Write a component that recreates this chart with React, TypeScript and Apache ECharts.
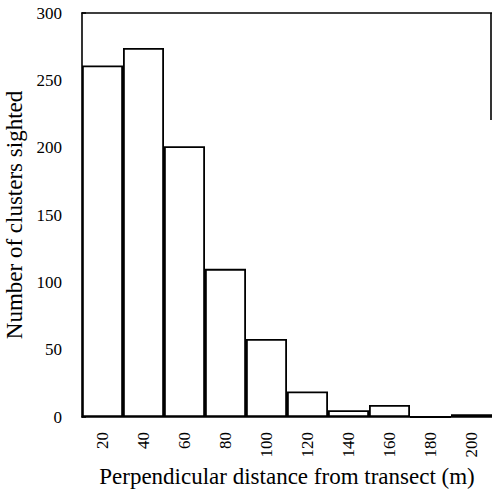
import React, { useEffect, useRef } from "react";
import * as echarts from "echarts";

const distanceLabels = ["20", "40", "60", "80", "100", "120", "140", "160", "180", "200"];
const clusterCounts = [261, 274, 201, 110, 58, 19, 5, 9, 0, 2];
const yTicks = { min: 0, max: 300, interval: 50 };

const FONT = "'Liberation Serif', 'DejaVu Serif', serif";

export default function App() {
  const ref = useRef<HTMLDivElement>(null);
  useEffect(() => {
    if (!ref.current) return;
    const chart = echarts.init(ref.current, null, { renderer: "svg" });
    chart.setOption({
      animation: false,
      backgroundColor: "#ffffff",
      grid: { left: 82, right: 0, top: 13, bottom: 77, containLabel: false, outerBoundsMode: "none" },
      xAxis: [
        {
          type: "category",
          data: distanceLabels,
          boundaryGap: true,
          axisLine: { show: true, lineStyle: { color: "#000", width: 1.6 } },
          axisTick: { show: false },
          axisLabel: {
            rotate: 90,
            margin: 15,
            color: "#000",
            fontFamily: FONT,
            fontSize: 17,
          },
          name: "Perpendicular distance from transect (m)",
          nameLocation: "middle",
          nameGap: 46,
          nameTextStyle: { color: "#000", fontFamily: FONT, fontSize: 23 },
        },
        {
          type: "category",
          data: distanceLabels,
          position: "top",
          axisLine: { show: true, lineStyle: { color: "#000", width: 1.6 } },
          axisTick: { show: false },
          axisLabel: { show: false },
        },
      ],
      yAxis: {
        type: "value",
        min: yTicks.min,
        max: yTicks.max,
        interval: yTicks.interval,
        axisLine: { show: true, lineStyle: { color: "#000", width: 1.6 } },
        axisTick: { show: true, inside: true, length: 4, lineStyle: { color: "#000", width: 1.5 } },
        splitLine: { show: false },
        axisLabel: {
          margin: 20,
          color: "#000",
          fontFamily: FONT,
          fontSize: 17,
        },
        name: "Number of clusters sighted",
        nameLocation: "middle",
        nameGap: 54,
        nameTextStyle: { color: "#000", fontFamily: FONT, fontSize: 23 },
      },
      graphic: [
        {
          type: "line",
          shape: { x1: 491, y1: 13, x2: 491, y2: 120 },
          style: { stroke: "#000", lineWidth: 1.6 },
        },
      ],
      series: [
        {
          type: "bar",
          data: clusterCounts,
          barCategoryGap: "0%",
          itemStyle: { color: "#fff", borderColor: "#000", borderWidth: 1.8 },
        },
      ],
    });
    return () => chart.dispose();
  }, []);
  return <div ref={ref} style={{ width: 492, height: 494, position: "absolute", left: 0, top: 0 }} />;
}
